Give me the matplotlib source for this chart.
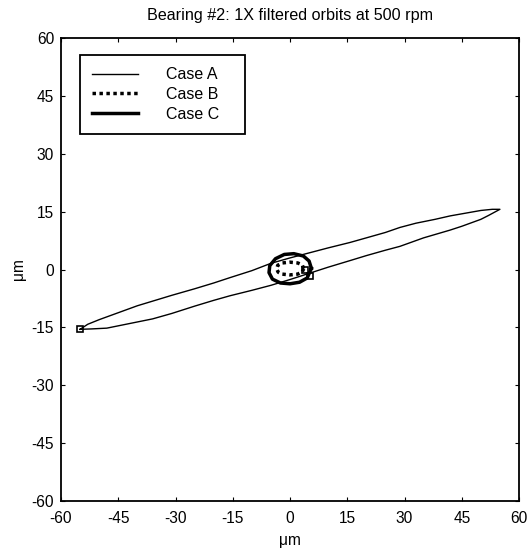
import matplotlib
matplotlib.use("Agg")
import matplotlib.pyplot as plt

plt.rcParams['font.family'] = ['Liberation Sans', 'DejaVu Sans']
plt.rcParams['axes.unicode_minus'] = False

# Case A orbit: upper branch left->right, then lower branch right->left
case_a_x = [-55, -53, -50, -45, -40, -35, -31, -25, -20, -15.7, -10, -5, 0, 5, 10,
            15.7, 20, 25, 28.8, 33, 38, 42, 46, 50, 53, 55,
            52, 50, 45, 41.9, 35, 28.8, 25, 20, 15.7, 10, 5, 0, -5, -10,
            -15.7, -20, -25, -31, -36, -40, -45, -48, -52, -55]
case_a_y = [-15.5, -14.2, -13.0, -11.2, -9.4, -7.9, -6.7, -5.0, -3.5, -2.1, -0.3, 1.6, 3.0, 4.3, 5.6,
            7.0, 8.2, 9.6, 10.9, 12.0, 13.0, 13.9, 14.6, 15.3, 15.6, 15.6,
            14.0, 13.0, 11.2, 10.2, 8.2, 6.0, 5.0, 3.6, 2.3, 0.6, -1.0, -2.6, -4.1, -5.4,
            -6.8, -8.0, -9.5, -11.4, -12.8, -13.6, -14.6, -15.2, -15.4, -15.5]

case_b_x = [3.6, 3.2, 2.0, 0.0, -2.0, -3.2, -3.5, -3.1, -2.0, 0.0, 2.0, 3.2, 3.6]
case_b_y = [0.2, 1.2, 1.7, 1.9, 1.7, 1.1, 0.2, -0.7, -1.2, -1.4, -1.2, -0.6, 0.2]

case_c_x = [5.6, 5.0, 3.5, 1.0, -1.5, -3.8, -5.3, -5.5, -4.6, -2.5, 0.0, 2.5, 4.5, 5.6]
case_c_y = [0.3, 2.2, 3.5, 4.1, 3.9, 2.8, 1.0, -0.8, -2.5, -3.5, -3.7, -3.3, -2.2, 0.3]

# start markers (square)
start_x = [-55, 3.9, 5.2]
start_y = [-15.5, 0.0, -1.6]

ticks = [-60, -45, -30, -15, 0, 15, 30, 45, 60]

fig = plt.figure(figsize=(5.27, 5.5), dpi=100)
ax = fig.add_axes([61 / 527, 49 / 550, 458 / 527, 463 / 550])

ax.plot(case_a_x, case_a_y, color="k", linewidth=1.0, label="Case A")
ax.plot(case_b_x, case_b_y, color="k", linewidth=2.5, linestyle=(0, (1, 1)), label="Case B")
ax.plot(case_c_x, case_c_y, color="k", linewidth=2.5, label="Case C")
ax.plot(start_x, start_y, linestyle="None", marker="s", markersize=5,
        markerfacecolor="none", markeredgecolor="k", markeredgewidth=1.2)

ax.set_xlim(-60, 60)
ax.set_ylim(-60, 60)
ax.set_xticks(ticks)
ax.set_yticks(ticks)
ax.tick_params(direction="in", length=3, top=True, right=True, labelsize=11.2)
ax.tick_params(axis="x", pad=7.5)
ax.tick_params(axis="y", pad=5)
for sp in ax.spines.values():
    sp.set_linewidth(1.3)

ax.set_xlabel("μm", fontsize=11.2, labelpad=5)
ax.set_ylabel("μm", fontsize=11.2, labelpad=4)
ax.set_title("Bearing #2: 1X filtered orbits at 500 rpm", fontsize=11.6, pad=13)

leg = ax.legend(loc="upper left", bbox_to_anchor=(0.0415, 0.743, 0.3605, 0.22),
                mode="expand", fontsize=11.5,
                frameon=True, fancybox=False, edgecolor="k", handlelength=2.9,
                handletextpad=1.75, borderpad=0.75, labelspacing=0.3,
                borderaxespad=0)
leg.get_frame().set_linewidth(1.3)
leg.get_frame().set_alpha(1)

fig.savefig("out.png", dpi=100)
